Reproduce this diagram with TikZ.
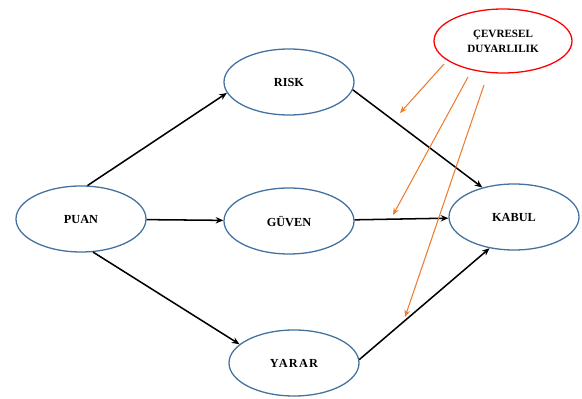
\documentclass[tikz,border=0pt]{standalone}
\usepackage{fontspec}
\setmainfont{Liberation Serif}
\usetikzlibrary{arrows.meta,positioning,shapes.geometric}
\definecolor{edgeblue}{RGB}{68,114,160}
\definecolor{envorange}{RGB}{237,125,49}

\begin{document}
\begin{tikzpicture}[
x=0.03cm,y=-0.03cm,
var/.style={draw=edgeblue,ellipse,line width=1.1pt,minimum width=3.9cm,minimum height=1.98cm,inner sep=0pt,align=center,font=\bfseries\fontsize{10.5}{12}\selectfont},
env/.style={draw=red,ellipse,line width=1.1pt,minimum width=4.14cm,minimum height=1.92cm,inner sep=0pt,align=center,font=\bfseries\fontsize{9.5}{13}\selectfont},
t/.style={-{Stealth[length=2.3mm,width=1.9mm]},line width=1.3pt},
o/.style={-{Stealth[length=2.1mm,width=1.7mm]},line width=0.9pt,draw=envorange}
]
\useasboundingbox (0,0) rectangle (582,399);

\node[var] (puan) at (81,219) {PUAN};
\node[var] (risk) at (289,82) {RISK};
\node[var] (guven) at (289,221) {GÜVEN};
\node[var] (yarar) at (294,363) {\addfontfeature{LetterSpace=10}YARAR};
\node[var] (kabul) at (514,217) {KABUL};
\node[env] (cevre) at (503,41) {ÇEVRESEL\\DUYARLILIK};

% orange arrows start below the red ellipse and end near the black arrows
\coordinate (s1) at (444,64);
\coordinate (s2) at (468,77);
\coordinate (s3) at (484,85);
\coordinate (o1) at (400,113);
\coordinate (o2) at (393,215);
\coordinate (o3) at (405,317);

\draw[t] (puan.79) -- (risk.190);
\draw[t] (puan) -- (guven);
\draw[t] (puan.-70) -- (yarar.161);
\draw[t] (risk.-7) -- (kabul.137);
\draw[t] (guven) -- (kabul);
\draw[t] (yarar.3) -- (kabul.-128);

\draw[o] (s1) -- (o1);
\draw[o] (s2) -- (o2);
\draw[o] (s3) -- (o3);
\end{tikzpicture}
\end{document}
